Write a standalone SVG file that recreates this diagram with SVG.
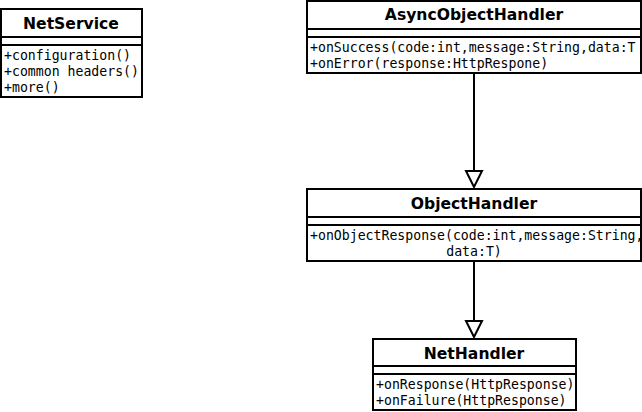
<svg xmlns="http://www.w3.org/2000/svg" width="642" height="412" viewBox="0 0 642 412">
<style>
.box{fill:#fff;stroke:#000;stroke-width:2}
.ln{stroke:#000;stroke-width:2;fill:none}
.t{font-family:"DejaVu Sans",sans-serif;font-weight:bold;font-size:15.6px;text-anchor:middle;fill:#000}
.m{font-family:"DejaVu Sans Mono",monospace;font-size:13.2px;fill:#000}
.c{stroke:#000;stroke-width:2;fill:none}
.tri{fill:#fff;stroke:#000;stroke-width:2}
</style>
<rect width="642" height="412" fill="#fff"/>
<g id="connectors">
<line class="c" x1="474" y1="73" x2="474" y2="171"/>
<polygon class="tri" points="466,171 482,171 474,187"/>
<line class="c" x1="474" y1="261" x2="474" y2="321"/>
<polygon class="tri" points="466,321 482,321 474,337"/>
</g>
<g id="NetService">
<rect class="box" x="1" y="9" width="141" height="88"/>
<line class="ln" x1="1" y1="37" x2="142" y2="37"/>
<line class="ln" x1="1" y1="45" x2="142" y2="45"/>
<text class="t" x="71" y="29">NetService</text>
<text class="m" x="4" y="60">+configuration()</text>
<text class="m" x="4" y="76">+common headers()</text>
<text class="m" x="4" y="92">+more()</text>
</g>
<g id="AsyncObjectHandler">
<rect class="box" x="307" y="1" width="334" height="72"/>
<line class="ln" x1="307" y1="29" x2="641" y2="29"/>
<line class="ln" x1="307" y1="37" x2="641" y2="37"/>
<text class="t" x="474" y="20">AsyncObjectHandler</text>
<text class="m" x="310" y="52">+onSuccess(code:int,message:String,data:T</text>
<text class="m" x="310" y="68">+onError(response:HttpRespone)</text>
</g>
<g id="ObjectHandler">
<rect class="box" x="307" y="189" width="334" height="72"/>
<line class="ln" x1="307" y1="217" x2="641" y2="217"/>
<line class="ln" x1="307" y1="225" x2="641" y2="225"/>
<text class="t" x="474" y="209">ObjectHandler</text>
<text class="m" x="310" y="240">+onObjectResponse(code:int,message:String,</text>
<text class="m" x="474" y="256" text-anchor="middle">data:T)</text>
</g>
<g id="NetHandler">
<rect class="box" x="373" y="339" width="203" height="71"/>
<line class="ln" x1="373" y1="366" x2="576" y2="366"/>
<line class="ln" x1="373" y1="374" x2="576" y2="374"/>
<text class="t" x="474" y="359">NetHandler</text>
<text class="m" x="376" y="389">+onResponse(HttpResponse)</text>
<text class="m" x="376" y="405">+onFailure(HttpResponse)</text>
</g>
</svg>
